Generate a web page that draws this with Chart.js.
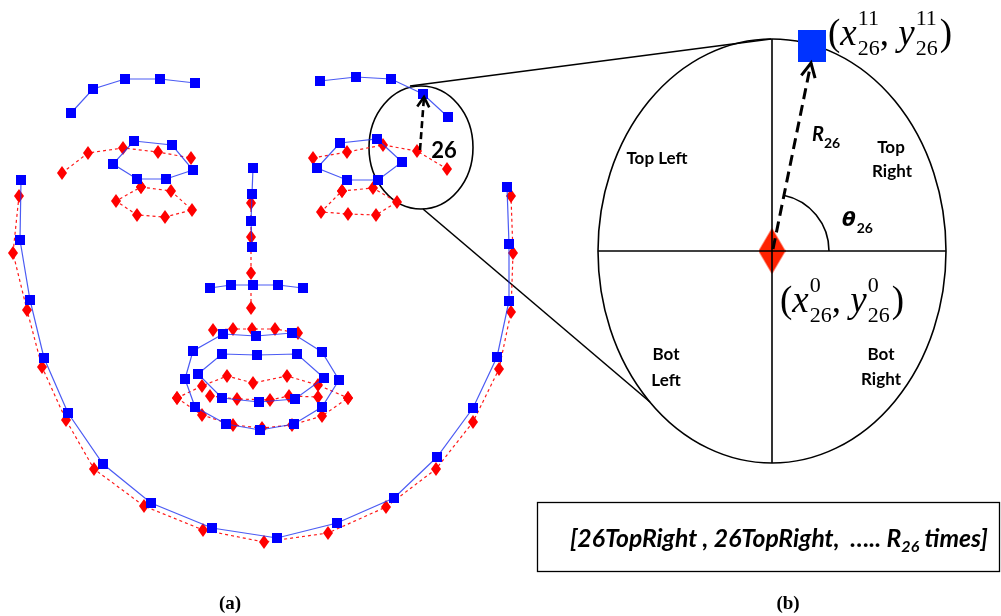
<!DOCTYPE html>
<html><head><meta charset="utf-8">
<script src="https://cdn.jsdelivr.net/npm/chart.js@4.4.0/dist/chart.umd.min.js"></script>
<style>html,body{margin:0;padding:0;background:#fff;overflow:hidden}#wrap{width:1001px;height:616px}</style>
</head><body><div id="wrap"><canvas id="c" width="1001" height="616"></canvas></div>
<script>
// ---- landmark data (x, y in figure units) ----
const blueJaw = [[21,180],[20,240],[30,300],[44,358],[68,413],[103,464],[151,503],[212,528],[277,538],[337,523],[394,498],[437,457],[473,408],[497,357],[509,301],[509,244],[507,187]];
const redJaw = [[19,196],[13,253],[27,310],[42,367],[66,420],[94,469],[144,506],[203,530],[264,542],[328,533],[386,507],[436,469],[473,422],[499,369],[511,312],[513,253],[511,196]];
const blueBrowL = [[71,113],[93,89],[125,79],[160,79],[195,83]];
const blueBrowR = [[320,81],[356,77],[391,79],[423,94],[448,117]];
const redBrowL = [[62,173],[88,153],[123,148],[158,152],[191,158]];
const redBrowR = [[313,158],[347,152],[383,145],[417,151],[447,169]];
const blueEyeL = [[134,141],[172,145],[193,170],[166,179],[137,179],[113,164],[134,141]];
const blueEyeR = [[340,143],[377,139],[402,162],[378,180],[347,180],[317,168],[340,143]];
const redEyeL = [[141,187],[171,191],[192,210],[165,217],[137,215],[116,201],[141,187]];
const redEyeR = [[342,191],[373,188],[397,202],[376,215],[348,214],[321,212],[342,191]];
const blueNose = [[253,168],[252,194],[251,221],[252,247]];
const blueNostril = [[210,288],[231,285],[253,285],[278,285],[303,288]];
const redNose = [[251,203],[251,237],[251,273],[251,308]];
const blueLipOuter = [[185,379],[193,351],[223,334],[256,336],[292,333],[322,352],[339,380],[322,407],[294,424],[260,430],[226,424],[195,407],[185,379]];
const blueLipInner = [[198,374],[222,354],[257,355],[297,354],[324,378],[295,399],[259,402],[222,398],[198,374]];
const redLipTop = [[213,330],[233,329],[252,329],[275,329],[298,333]];
const redLipUpper = [[177,398],[202,386],[227,376],[253,383],[287,376],[318,385],[348,398]];
const redLipLower = [[177,398],[202,415],[233,425],[262,428],[292,425],[322,416],[348,398]];
const redLipInner = [[210,396],[237,399],[270,400],[289,396],[318,397]];
const zoomOrigin = [[772,251]];
const zoomTarget = [[812,46]];

// ---- marker images ----
function diamondImg(w,h,color){const c=document.createElement('canvas');c.width=w;c.height=h;const g=c.getContext('2d');g.fillStyle=color;g.beginPath();g.moveTo(w/2,0);g.lineTo(w,h/2);g.lineTo(w/2,h);g.lineTo(0,h/2);g.closePath();g.fill();return c;}
function squareImg(w,h,color){const c=document.createElement('canvas');c.width=w;c.height=h;const g=c.getContext('2d');g.fillStyle=color;g.fillRect(0,0,w,h);return c;}
const smallDiamond = diamondImg(10,14,'#ff0000');
const smallSquare = squareImg(10,10,'#0000ff');
const bigDiamond = diamondImg(27,46,'#ff2200');
const bigSquare = squareImg(28,32,'#0033ff');

const pts = a => a.map(p=>({x:p[0],y:p[1]}));
function blue(a){return {data:pts(a),showLine:true,borderColor:'rgba(30,50,240,0.8)',borderWidth:1.2,pointStyle:smallSquare,pointRadius:5,tension:0,order:1};}
function red(a){return {data:pts(a),showLine:true,borderColor:'#ff1a1a',borderWidth:1.2,borderDash:[3,3],pointStyle:smallDiamond,pointRadius:5,tension:0,order:2};}

const datasets = [
  red(redJaw), red(redBrowL), red(redBrowR), red(redEyeL), red(redEyeR), red(redNose),
  red(redLipTop), red(redLipUpper), red(redLipLower), red(redLipInner),
  blue(blueJaw), blue(blueBrowL), blue(blueBrowR), blue(blueEyeL), blue(blueEyeR), blue(blueNose), blue(blueNostril),
  blue(blueLipOuter), blue(blueLipInner),
  {data:pts(zoomOrigin),showLine:false,pointStyle:bigDiamond,pointRadius:5,order:1},
  {data:pts(zoomTarget),showLine:false,pointStyle:bigSquare,pointRadius:5,order:1}
];

function rich(ctx, parts, x, y, align){
  const lay=[]; let cx=0, pend=0;
  for(const p of parts){ctx.font=p.f;const w=ctx.measureText(p.t).width;lay.push({p,x:cx});
    if(p.stack){pend=w;} else {cx+=Math.max(w,pend)+(p.gap||0);pend=0;}}
  const x0 = align==='center'? x-cx/2 : x;
  for(const l of lay){ctx.font=l.p.f;ctx.fillText(l.p.t,x0+l.x,y+(l.p.dy||0));}
  return cx;
}

const overlay = {
  id:'overlay',
  beforeDatasetsDraw(chart){
    const ctx=chart.ctx, X=v=>chart.scales.x.getPixelForValue(v), Y=v=>chart.scales.y.getPixelForValue(v);
    ctx.save(); ctx.strokeStyle='#000'; ctx.lineWidth=1.6;
    ctx.beginPath(); ctx.ellipse(X(421),Y(147.5),X(473)-X(421),Y(209)-Y(147.5),0,0,2*Math.PI); ctx.stroke();
    ctx.beginPath(); ctx.ellipse(X(772),Y(251),X(946)-X(772),Y(463)-Y(251),0,0,2*Math.PI); ctx.stroke();
    ctx.beginPath(); ctx.moveTo(X(410),Y(86)); ctx.lineTo(X(771),Y(39)); ctx.stroke();
    ctx.beginPath(); ctx.moveTo(X(423),Y(209)); ctx.lineTo(X(650),Y(402)); ctx.stroke();
    ctx.restore();
  },
  afterDatasetsDraw(chart){
    const ctx=chart.ctx, X=v=>chart.scales.x.getPixelForValue(v), Y=v=>chart.scales.y.getPixelForValue(v);
    ctx.save(); ctx.strokeStyle='#000'; ctx.fillStyle='#000';
    ctx.lineWidth=1.6;
    ctx.beginPath(); ctx.moveTo(X(772),Y(39)); ctx.lineTo(X(772),Y(463)); ctx.stroke();
    ctx.beginPath(); ctx.moveTo(X(598),Y(251)); ctx.lineTo(X(946),Y(251)); ctx.stroke();
    const ang=Math.atan2(Y(63)-Y(251),X(811)-X(772));
    ctx.beginPath(); ctx.arc(X(772),Y(251),57,ang,0); ctx.stroke();
    function arrow(x1,y1,x2,y2,w,dash,hl,hw){
      ctx.lineWidth=w; ctx.setLineDash(dash);
      ctx.beginPath(); ctx.moveTo(X(x1),Y(y1)); ctx.lineTo(X(x2),Y(y2)); ctx.stroke();
      ctx.setLineDash([]);
      const dx=X(x2)-X(x1), dy=Y(y2)-Y(y1), L=Math.hypot(dx,dy), ux=dx/L, uy=dy/L;
      const bx=X(x2)-ux*hl, by=Y(y2)-uy*hl;
      ctx.beginPath(); ctx.moveTo(bx-uy*hw,by+ux*hw); ctx.lineTo(X(x2),Y(y2)); ctx.lineTo(bx+uy*hw,by-ux*hw); ctx.stroke();
    }
    arrow(420,150,424,97,2.6,[7,4],10,6);
    arrow(773,249,811,63,3,[11,6],14,7);
    ctx.textBaseline='alphabetic'; ctx.textAlign='left';
    rich(ctx,[{t:'26',f:'bold 22px Lato'}],444,158,'center');
    const lab='bold 17px Lato';
    rich(ctx,[{t:'Top Left',f:lab}],657,164,'center');
    rich(ctx,[{t:'Top',f:lab}],891,153,'center');
    rich(ctx,[{t:'Right',f:lab}],892,177,'center');
    rich(ctx,[{t:'Bot',f:lab}],666,360,'center');
    rich(ctx,[{t:'Left',f:lab}],666,386,'center');
    rich(ctx,[{t:'Bot',f:lab}],881,360,'center');
    rich(ctx,[{t:'Right',f:lab}],881,385,'center');
    rich(ctx,[{t:'R',f:'italic bold 20px Lato'},{t:'26',f:'bold 14px Lato',dy:7}],812,141,'left');
    rich(ctx,[{t:'\u03B8',f:'italic bold 20px "DejaVu Sans"',gap:1},{t:'26',f:'bold 14px Lato',dy:7}],842,226,'left');
    const tm='italic 37px "Liberation Serif"', tp='37px "Liberation Serif"', ts='22px "Liberation Serif"';
    rich(ctx,[{t:'(',f:tp},{t:'x',f:tm,gap:1},{t:'0',f:ts,dy:-20,stack:true},{t:'26',f:ts,dy:10},{t:', ',f:tp},{t:'y',f:tm,gap:1},{t:'0',f:ts,dy:-20,stack:true},{t:'26',f:ts,dy:10,gap:2},{t:')',f:tp}],780,312,'left');
    rich(ctx,[{t:'(',f:tp},{t:'x',f:tm,gap:1},{t:'11',f:ts,dy:-20,stack:true},{t:'26',f:ts,dy:10},{t:', ',f:tp},{t:'y',f:tm,gap:1},{t:'11',f:ts,dy:-20,stack:true},{t:'26',f:ts,dy:10,gap:2},{t:')',f:tp}],828,45,'left');
    ctx.lineWidth=1.3;
    ctx.strokeRect(X(537)+0.5,Y(502)+0.5,X(999)-X(537),Y(571)-Y(502));
    ctx.font='italic bold 20px Lato';
    const s1='[26TopRight , 26TopRight,  \u2026.. R', s3=' times]';
    const w0=ctx.measureText(s1+s3).width+ctx.measureText('26').width*0.65;
    const fs=20*418/w0;
    rich(ctx,[{t:s1,f:'italic bold '+fs+'px Lato'},{t:'26',f:'italic bold '+(fs*0.65)+'px Lato',dy:5},{t:s3,f:'italic bold '+fs+'px Lato'}],570,547,'left');
    rich(ctx,[{t:'(a)',f:'bold 19px "Liberation Serif"'}],230,609,'center');
    rich(ctx,[{t:'(b)',f:'bold 19px "Liberation Serif"'}],788,609,'center');
    ctx.restore();
  }
};

new Chart(document.getElementById('c'),{
  type:'scatter',
  data:{datasets},
  options:{
    responsive:false, animation:false, devicePixelRatio:1,
    layout:{padding:0, autoPadding:false},
    plugins:{legend:{display:false},tooltip:{enabled:false}},
    elements:{point:{hoverRadius:5}},
    scales:{
      x:{type:'linear',min:0,max:1001,display:false},
      y:{type:'linear',min:0,max:616,reverse:true,display:false}
    }
  },
  plugins:[overlay]
});
</script>
</body></html>
